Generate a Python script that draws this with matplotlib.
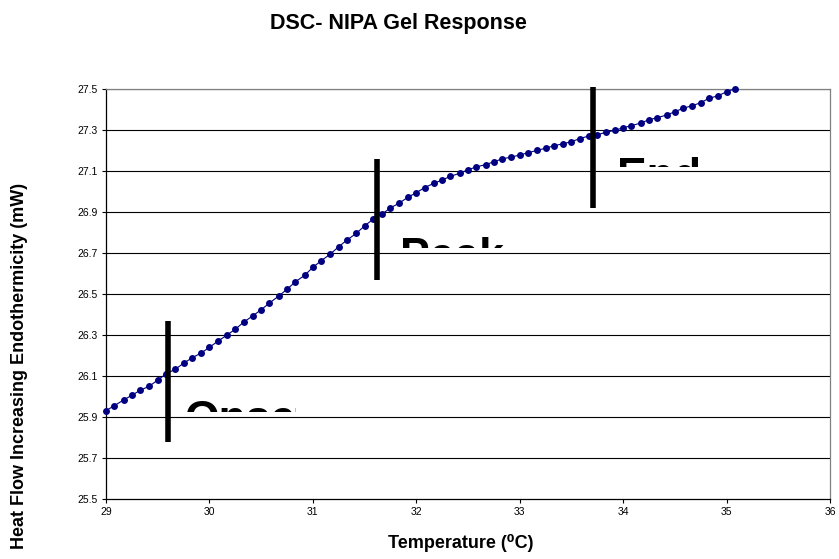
import matplotlib
matplotlib.use("Agg")
import matplotlib.pyplot as plt
from matplotlib.transforms import Bbox, TransformedBbox

plt.rcParams["font.family"] = ["Liberation Sans", "DejaVu Sans"]

# temperature (deg C), one reading every ~0.083 deg
temps = [29.00, 29.08, 29.17, 29.25, 29.33, 29.42, 29.50, 29.58, 29.67, 29.75,
         29.83, 29.92, 30.00, 30.08, 30.17, 30.25, 30.33, 30.42, 30.50, 30.58,
         30.67, 30.75, 30.83, 30.92, 31.00, 31.08, 31.17, 31.25, 31.33, 31.42,
         31.50, 31.58, 31.67, 31.75, 31.83, 31.92, 32.00, 32.08, 32.17, 32.25,
         32.33, 32.42, 32.50, 32.58, 32.67, 32.75, 32.83, 32.92, 33.00, 33.08,
         33.17, 33.25, 33.33, 33.42, 33.50, 33.58, 33.67, 33.75, 33.83, 33.92,
         34.00, 34.08, 34.17, 34.25, 34.33, 34.42, 34.50, 34.58, 34.67, 34.75,
         34.83, 34.92, 35.00, 35.08]
heat_flow = [25.931, 25.955, 25.983, 26.006, 26.030, 26.051, 26.080, 26.110, 26.133, 26.162,
             26.188, 26.212, 26.240, 26.269, 26.300, 26.328, 26.362, 26.394, 26.423, 26.456,
             26.490, 26.523, 26.559, 26.591, 26.630, 26.662, 26.695, 26.731, 26.763, 26.796,
             26.832, 26.864, 26.890, 26.920, 26.942, 26.972, 26.994, 27.019, 27.040, 27.056,
             27.074, 27.089, 27.106, 27.120, 27.131, 27.145, 27.159, 27.168, 27.178, 27.189,
             27.201, 27.211, 27.223, 27.233, 27.243, 27.258, 27.271, 27.276, 27.289, 27.298,
             27.311, 27.321, 27.334, 27.350, 27.360, 27.373, 27.389, 27.406, 27.419, 27.433,
             27.455, 27.467, 27.487, 27.501]

# marker bars: x position, bottom, top
marker_names = ["Onset", "Peak", "End"]
marker_x = [29.60, 31.62, 33.71]
marker_lo = [25.78, 26.57, 26.92]
marker_hi = [26.37, 27.16, 27.51]

# labels are cut off by their text boxes: left, baseline, box bottom, box right
label_x = [29.76, 31.84, 33.94]
label_base = [25.827, 26.620, 27.011]
label_cut = [25.926, 26.723, 27.121]
label_right = [30.84, 32.93, 34.80]

x_ticks = [29, 30, 31, 32, 33, 34, 35, 36]
y_ticks = [25.5, 25.7, 25.9, 26.1, 26.3, 26.5, 26.7, 26.9, 27.1, 27.3, 27.5]

fig = plt.figure(figsize=(8.39, 5.59), dpi=100)
ax = fig.add_axes([106 / 839, 1 - 499 / 559, 724 / 839, 410 / 559])

ax.set_xlim(29, 36)
ax.set_ylim(25.5, 27.5)
ax.set_xticks(x_ticks)
ax.set_yticks(y_ticks)
ax.set_yticklabels(["%.1f" % v for v in y_ticks])
ax.tick_params(direction="out", length=3, width=0.8, labelsize=7.5, pad=3)

for v in y_ticks[1:]:
    ax.axhline(v, color="black", lw=0.8, zorder=1)

for side in ["left", "bottom"]:
    ax.spines[side].set_color("black")
    ax.spines[side].set_linewidth(0.9)
for side in ["right", "top"]:
    ax.spines[side].set_color("#808080")
    ax.spines[side].set_linewidth(0.9)

ax.plot(temps, heat_flow, color="#000080", lw=0.8, marker="o", markersize=5,
        markeredgewidth=0, zorder=3, clip_on=False)

for i in range(len(marker_x)):
    ax.plot([marker_x[i], marker_x[i]], [marker_lo[i], marker_hi[i]], color="black",
            lw=4, solid_capstyle="butt", zorder=4, clip_on=False)
    t = ax.text(label_x[i], label_base[i], marker_names[i], fontsize=32,
                fontweight="bold", va="baseline", ha="left", zorder=5)
    box = Bbox([[label_x[i] - 0.1, label_cut[i]], [label_right[i], label_cut[i] + 0.4]])
    t.set_clip_box(TransformedBbox(box, ax.transData))
    t.set_clip_on(True)

fig.text(398 / 839, 1 - 24 / 559, "DSC- NIPA Gel Response", fontsize=15.5,
         fontweight="bold", ha="center", va="center")
fig.text(461 / 839, 1 - 543 / 559, "Temperature (\u2070C)", fontsize=13,
         fontweight="bold", ha="center", va="center")
fig.text(20 / 839, 1 - 366 / 559, "Heat Flow Increasing Endothermicity (mW)",
         fontsize=13, fontweight="bold", ha="center", va="center", rotation=90)

fig.savefig("out.png", dpi=100)
